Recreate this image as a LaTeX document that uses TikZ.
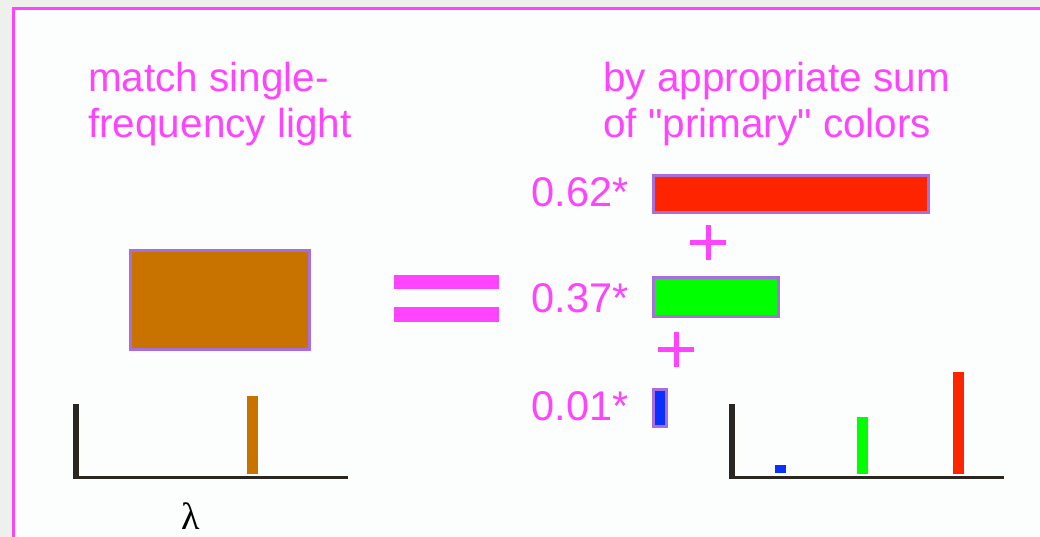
\documentclass[tikz,border=0pt]{standalone}
\usepackage{fontspec}
\setmainfont{Liberation Sans}
\newfontfamily\rawsans{Liberation Sans}
\newfontfamily\greekfont{Liberation Serif}
\definecolor{pagebg}{HTML}{EEF0EB}
\definecolor{panelbg}{HTML}{FCFEFD}
\definecolor{pinkc}{HTML}{FF44FF}
\definecolor{edgec}{HTML}{A86EDC}
\definecolor{orangec}{HTML}{C87200}
\definecolor{redc}{HTML}{FF2400}
\definecolor{greenc}{HTML}{00FF00}
\definecolor{bluec}{HTML}{0A30FF}
\definecolor{axisc}{HTML}{2A2622}
\tikzset{
  lbl/.style={text=pinkc, font=\rawsans\fontsize{40.5}{46}\selectfont, inner sep=0pt, anchor=base west},
  num/.style={text=pinkc, font=\rawsans\fontsize{41.5}{46}\selectfont, inner sep=0pt, anchor=base},
  colbar/.style={draw=edgec, line width=3pt, inner sep=0pt, outer sep=0pt},
  plusarm/.style={draw=pinkc, line width=5pt},
  axisbar/.style={fill=axisc},
}
\begin{document}
\begin{tikzpicture}[x=1pt,y=-1pt]
\useasboundingbox (0,0) rectangle (1040,537);
\fill[pagebg] (0,0) rectangle (1040,537);
\fill[panelbg] (13.5,8.5) rectangle (1040,537);
\draw[pinkc, line width=3pt] (13.5,537) -- (13.5,8.5) -- (1040,8.5);

% headings
\node[lbl] (l1) at (88,92) {match single-};
\node[lbl] (l2) at (88,138) {frequency light};
\node[lbl] (r1) at (603,92) {by appropriate sum};
\node[lbl] (r2) at (603,138) {of "primary" colors};

% single frequency colour
\node[colbar, fill=orangec, minimum width=179pt, minimum height=99pt] (orange) at (220,300) {};

% equals sign
\fill[pinkc] (394,275) rectangle (499,289);
\fill[pinkc] (394,307) rectangle (499,322);

% weighted primaries
\node[num] (n1) at (580,207) {0.62*};
\node[colbar, fill=redc, minimum width=275pt, minimum height=37pt] (red) at (791,194) {};
\coordinate (p1) at (708,242.5);
\draw[plusarm] ([xshift=-18pt]p1) -- ([xshift=18pt]p1);
\draw[plusarm] ([yshift=-17.5pt]p1) -- ([yshift=17.5pt]p1);

\node[num] (n2) at (580,312) {0.37*};
\node[colbar, fill=greenc, minimum width=125pt, minimum height=39pt] (green) at (716,297) {};
\coordinate (p2) at (676,349.5);
\draw[plusarm] ([xshift=-18pt]p2) -- ([xshift=18pt]p2);
\draw[plusarm] ([yshift=-17.5pt]p2) -- ([yshift=17.5pt]p2);

\node[num] (n3) at (580,420) {0.01*};
\node[colbar, fill=bluec, minimum width=13pt, minimum height=37pt] (blue) at (660,408) {};

% left spectrum
\fill[axisbar] (73,404) rectangle (79,479);
\fill[axisbar] (79,476) rectangle (348,479);
\fill[orangec] (247,396) rectangle (258,474);
\node[font=\greekfont\fontsize{38}{40}\selectfont, inner sep=0pt, anchor=base] (lam) at (191,529) {λ};

% right spectrum
\fill[axisbar] (729,404) rectangle (735,479);
\fill[axisbar] (735,476) rectangle (1004,479);
\fill[bluec] (775,465) rectangle (786,473);
\fill[greenc] (857,417) rectangle (868,474);
\fill[redc] (953,372) rectangle (964,474);
\end{tikzpicture}
\end{document}
